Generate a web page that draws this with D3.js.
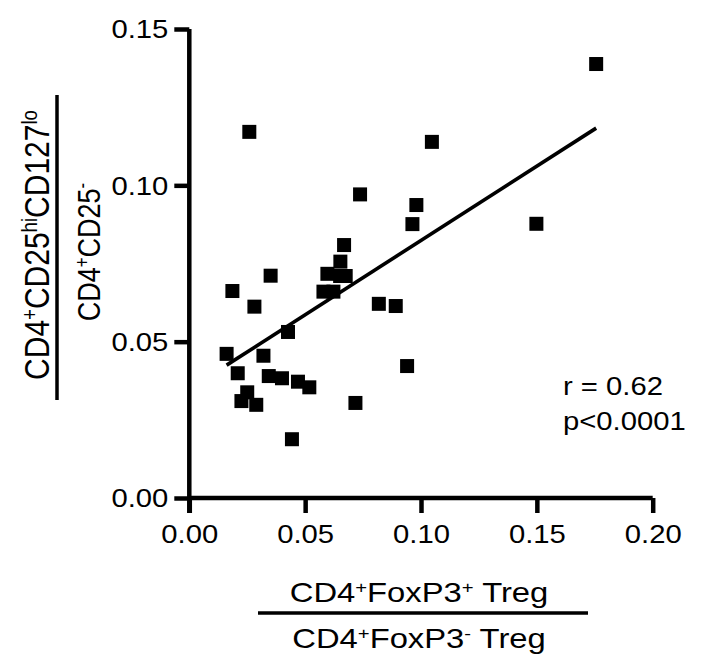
<!DOCTYPE html>
<html>
<head>
<meta charset="utf-8">
<script src="https://cdn.jsdelivr.net/npm/d3@7"></script>
<style>
  html, body { margin: 0; padding: 0; background: #fff; }
  svg { display: block; }
  text { font-family: "Liberation Sans", Arial, Helvetica, sans-serif; fill: #000; }
</style>
</head>
<body>
<svg id="chart" width="712" height="671"></svg>
<script>
// ---- data ----
const xValues = [0.0259, 0.0737, 0.0980, 0.0963, 0.1047, 0.1756, 0.1498, 0.0668, 0.0652, 0.0596,
                 0.0651, 0.0675, 0.0579, 0.0622, 0.0351, 0.0186, 0.0281, 0.0818, 0.0891, 0.0426,
                 0.0161, 0.0320, 0.0209, 0.0343, 0.0400, 0.0469, 0.0518, 0.0250, 0.0225, 0.0289,
                 0.0717, 0.0940, 0.0443];
const yValues = [0.1171, 0.0971, 0.0937, 0.0876, 0.1139, 0.1388, 0.0877, 0.0809, 0.0756, 0.0717,
                 0.0710, 0.0710, 0.0660, 0.0660, 0.0711, 0.0662, 0.0612, 0.0621, 0.0614, 0.0531,
                 0.0461, 0.0455, 0.0399, 0.0390, 0.0383, 0.0372, 0.0354, 0.0338, 0.0310, 0.0298,
                 0.0304, 0.0422, 0.0188];
const fitX = [0.0161, 0.1756];
const fitY = [0.0425, 0.1183];
const xTicks = [0, 0.05, 0.10, 0.15, 0.20];
const yTicks = [0, 0.05, 0.10, 0.15];
const statLines = ["r = 0.62", "p<0.0001"];

// ---- layout ----
const svg = d3.select("#chart");
const SX = 1.17; // horizontal stretch of the reference's lettering
const x = d3.scaleLinear().domain([0, 0.2]).range([189.3, 652.7]);
const y = d3.scaleLinear().domain([0, 0.15]).range([498, 29]);
const fmt = d3.format(".2f");
const axisW = 4.5;

// X axis
const gx = svg.append("g").attr("transform", `translate(0,${y(0)})`)
  .call(d3.axisBottom(x).tickValues(xTicks).tickSize(15).tickFormat(fmt));
gx.select(".domain").attr("stroke", "#000").attr("stroke-width", axisW).attr("d", `M${x(0)},0H${x(0.2)}`);
gx.selectAll(".tick line").attr("stroke", "#000").attr("stroke-width", axisW);
gx.selectAll(".tick text").each(function() {
  d3.select(this).attr("y", null).attr("dy", null)
    .attr("transform", `translate(0,45) scale(${SX},1)`)
    .attr("font-size", 25).attr("font-family", null).attr("text-anchor", "middle");
});

// Y axis
const gy = svg.append("g").attr("transform", `translate(${x(0)},0)`)
  .call(d3.axisLeft(y).tickValues(yTicks).tickSize(15).tickFormat(fmt));
gy.select(".domain").attr("stroke", "#000").attr("stroke-width", axisW).attr("d", `M0,${y(0.15)}V${y(0) + 15}`);
gy.selectAll(".tick line").attr("stroke", "#000").attr("stroke-width", axisW);
gy.selectAll(".tick text").each(function() {
  d3.select(this).attr("x", null).attr("dy", "0.35em")
    .attr("transform", `translate(-21,0) scale(${SX},1)`)
    .attr("font-size", 25).attr("font-family", null).attr("text-anchor", "end");
});
svg.selectAll(".tick").attr("font-family", null);
gx.attr("font-family", null).attr("font-size", null);
gy.attr("font-family", null).attr("font-size", null);

// regression line
svg.append("path")
  .datum(fitX.map((v, i) => [v, fitY[i]]))
  .attr("fill", "none").attr("stroke", "#000").attr("stroke-width", 3.6)
  .attr("d", d3.line().x(d => x(d[0])).y(d => y(d[1])));

// points
const S = 14;
svg.append("g").selectAll("rect")
  .data(xValues.map((v, i) => [v, yValues[i]]))
  .join("rect")
  .attr("x", d => x(d[0]) - S / 2).attr("y", d => y(d[1]) - S / 2)
  .attr("width", S).attr("height", S).attr("fill", "#000");

// stats
svg.append("g").selectAll("text").data(statLines).join("text")
  .attr("transform", (d, i) => `translate(563,${395 + i * 35}) scale(${SX},1)`)
  .attr("font-size", 25).text(d => d);

// helper for text with superscripts
function richText(sel, parts, size) {
  parts.forEach(p => {
    const t = sel.append("tspan").text(p[0]);
    if (p[1]) t.attr("font-size", size * 0.62).attr("baseline-shift", "55%");
  });
}

// X title (fraction)
const xt1 = svg.append("text").attr("transform", `translate(419,602) scale(${SX},1)`)
  .attr("text-anchor", "middle").attr("font-size", 28);
richText(xt1, [["CD4"], ["+", 1], ["FoxP3"], ["+", 1], [" Treg"]], 28);
svg.append("line").attr("x1", 258).attr("x2", 588).attr("y1", 613).attr("y2", 613)
  .attr("stroke", "#000").attr("stroke-width", 3.5);
const xt2 = svg.append("text").attr("transform", `translate(419,648) scale(${SX},1)`)
  .attr("text-anchor", "middle").attr("font-size", 28);
richText(xt2, [["CD4"], ["+", 1], ["FoxP3"], ["-", 1], [" Treg"]], 28);

// Y title (fraction, rotated)
const yt1 = svg.append("text").attr("transform", `translate(49,245) rotate(-90) scale(1,${SX})`)
  .attr("text-anchor", "middle").attr("font-size", 30);
richText(yt1, [["CD4"], ["+", 1], ["CD25"], ["hi", 1], ["CD127"], ["lo", 1]], 30);
svg.append("line").attr("x1", 57).attr("x2", 57).attr("y1", 95).attr("y2", 400)
  .attr("stroke", "#000").attr("stroke-width", 3.5);
const yt2 = svg.append("text").attr("transform", `translate(100,252) rotate(-90) scale(1,${SX})`)
  .attr("text-anchor", "middle").attr("font-size", 27);
richText(yt2, [["CD4"], ["+", 1], ["CD25"], ["-", 1]], 27);
</script>
</body>
</html>
